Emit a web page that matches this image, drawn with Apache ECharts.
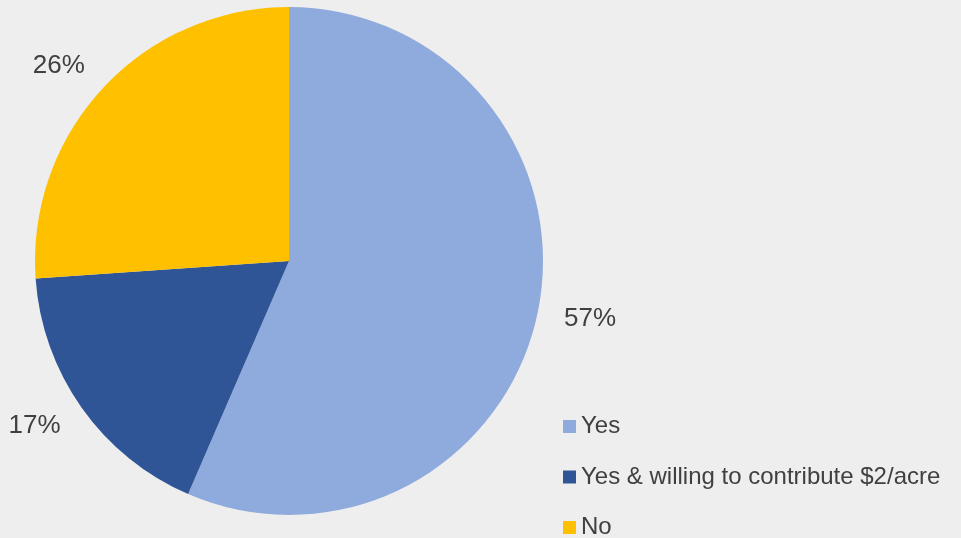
<!DOCTYPE html>
<html>
<head>
<meta charset="utf-8">
<script src="https://cdn.jsdelivr.net/npm/echarts@6/dist/echarts.min.js"></script>
<style>
html,body{margin:0;padding:0;background:#eeeeee;}
#chart{width:961px;height:538px;}
</style>
</head>
<body>
<div id="chart"></div>
<script>
const categories = ['Yes', 'Yes & willing to contribute $2/acre', 'No'];
const values = [56.5, 17.4, 26.1];
const colors = ['#8faadc', '#2f5597', '#ffc000'];

const chart = echarts.init(document.getElementById('chart'), null, {renderer: 'canvas'});
chart.setOption({
  backgroundColor: '#eeeeee',
  animation: false,
  textStyle: {fontFamily: 'Liberation Sans, Arial, sans-serif'},
  legend: {
    orient: 'vertical',
    left: 563,
    top: 413.5,
    height: 200,
    padding: 0,
    icon: 'rect',
    itemWidth: 13,
    itemHeight: 13,
    itemGap: 24.5,
    textStyle: {fontSize: 24, color: '#404040', lineHeight: 26},
    data: categories
  },
  series: [{
    type: 'pie',
    center: [289, 261],
    radius: 254,
    startAngle: 90,
    clockwise: true,
    avoidLabelOverlap: false,
    data: categories.map((c, i) => ({name: c, value: values[i], itemStyle: {color: colors[i]}})),
    label: {
      show: true,
      position: 'outside',
      formatter: p => Math.round(p.percent) + '%',
      fontSize: 26,
      color: '#404040'
    },
    labelLine: {show: false, length: 32, length2: -10},
    itemStyle: {borderWidth: 0}
  }]
});
</script>
</body>
</html>
